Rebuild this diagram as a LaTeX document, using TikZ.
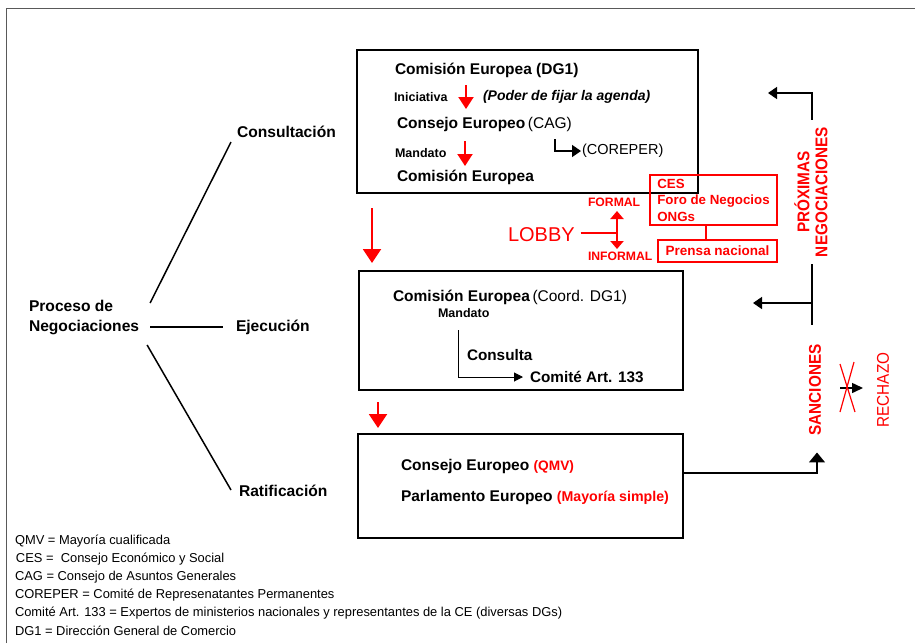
\documentclass[tikz,border=0pt]{standalone}
\usepackage{fontspec}
\setmainfont{Liberation Sans}
\usetikzlibrary{arrows.meta}
\definecolor{rd}{RGB}{255,0,0}
\begin{document}
\begin{tikzpicture}[x=1pt,y=-1pt,
  every node/.style={inner sep=0pt, outer sep=0pt},
  big/.style={anchor=west, font=\fontsize{15.5}{18}\selectfont\bfseries},
  tree/.style={anchor=west, font=\fontsize{15.6}{20}\selectfont\bfseries},
  small/.style={anchor=west, font=\fontsize{12.5}{14}\selectfont\bfseries},
  redsm/.style={font=\fontsize{12.2}{14}\selectfont\bfseries, text=rd},
  legend/.style={anchor=west, font=\fontsize{12.9}{14}\selectfont},
  boxx/.style={draw, line width=1.6pt, anchor=north west},
  redbox/.style={draw=rd, line width=1.5pt, anchor=north west, text=rd, font=\fontsize{13.3}{16.5}\selectfont\bfseries},
  vert/.style={rotate=90, text=rd, align=center, font=\fontsize{17}{18}\selectfont\bfseries},
  blk/.style={line width=1.5pt, -{Triangle[width=12pt,length=9pt]}},
  redbig/.style={draw=rd, line width=2pt, -{Triangle[width=18pt,length=14pt]}},
  redmid/.style={draw=rd, line width=2pt, -{Triangle[width=15pt,length=12pt]}},
  line/.style={line width=1.5pt}
]
\useasboundingbox (0,0) rectangle (915,643);
\fill[white] (0,0) rectangle (915,643);
% outer frame
\draw[gray!70!black, line width=1pt] (6,643) -- (6,8) -- (915,8);

% boxes
\node[boxx, minimum width=341, minimum height=143] (b1) at (357,50) {};
\node[boxx, minimum width=324, minimum height=119] (b2) at (359,271) {};
\node[boxx, minimum width=325, minimum height=104] (b3) at (358,434) {};

% box 1 content
\node[big] (t1a) at (395,70) {Comisión Europea (DG1)};
\node[small] (ini) at (394,97) {Iniciativa};
\node[anchor=west, font=\fontsize{14}{16}\selectfont\bfseries\itshape] (poder) at (483,97) {(Poder de fijar la agenda)};
\node[big] (t1b) at (397,124) {Consejo Europeo\,\mdseries(CAG)};
\node[small] (mand1) at (395,153) {Mandato};
\node[anchor=west, font=\fontsize{14.5}{17}\selectfont] (corep) at (582,151) {(COREPER)};
\node[big] (t1c) at (397,177) {Comisión Europea};
\coordinate (r1s) at (466,85);
\coordinate (r1e) at (466,109);
\draw[redmid] (r1s) -- (r1e);
\coordinate (r2s) at (465,141);
\coordinate (r2e) at (465,166);
\draw[redmid] (r2s) -- (r2e);
\coordinate (cs) at (555,139);
\draw[blk] (cs) |- ([xshift=-1pt]corep.west);

% arrows between boxes
\draw[redbig] ([xshift=15pt,yshift=-15pt]b1.south west) -- ([xshift=13pt,yshift=8pt]b2.north west);
\draw[redbig] ([xshift=19pt,yshift=-12pt]b2.south west) -- ([xshift=20pt,yshift=6pt]b3.north west);

% box 2 content
\node[big] (t2a) at (393,297) {Comisión Europea\,\mdseries(Coord. DG1)};
\node[small] (mand2) at (438,313) {Mandato};
\node[big, font=\fontsize{15.3}{17}\selectfont\bfseries] (cons2) at (467,355) {Consulta};
\node[big, font=\fontsize{15.3}{17}\selectfont\bfseries] (comite) at (530,377) {Comité Art. 133};
\coordinate (cm) at (458,330);
\draw[line width=1pt, -{Triangle[width=9pt,length=9pt]}] (cm) |- ([xshift=-7pt]comite.west);

% box 3 content
\node[big] (t3a) at (401,466) {Consejo Europeo \textcolor{rd}{\fontsize{13.7}{15}\selectfont(QMV)}};
\node[big] (t3b) at (401,497) {Parlamento Europeo \textcolor{rd}{\fontsize{14.2}{15}\selectfont(Mayoría simple)}};

% tree
\node[tree, align=left] (proc) at (29,317) {Proceso de\\Negociaciones};
\node[tree] (cons) at (237,132) {Consultación};
\node[tree] (ejec) at (236,327) {Ejecución};
\node[tree] (ratif) at (239,491) {Ratificación};
\draw[line] ([shift={(11,-14)}]proc.east) -- ([shift={(-6,10)}]cons.west);
\draw[line] ([shift={(11,10)}]proc.east) -- ([shift={(-13,0)}]ejec.west);
\draw[line] ([shift={(8,28)}]proc.east) -- ([shift={(-8,-1)}]ratif.west);

% lobby
\node[anchor=west, text=rd, font=\fontsize{20}{22}\selectfont] (lobby) at (508,235) {LOBBY};
\node[redsm, anchor=west] (formal) at (588,202) {FORMAL};
\node[redsm, anchor=west] (informal) at (588,256) {INFORMAL};
\coordinate (lb) at (617,233);
\coordinate (lbt) at (617,211);
\coordinate (lbb) at (617,249);
\draw[rd, line width=1.5pt] ([xshift=6pt,yshift=2pt]lobby.east) -- (lb);
\draw[rd, line width=2.5pt, {Triangle[width=13pt,length=8pt]}-{Triangle[width=13pt,length=8pt]}] (lbt) -- (lbb);
\node[redbox, align=left, inner xsep=6pt, minimum width=127, minimum height=50, inner ysep=2pt] (ces) at (650,175) {CES\\Foro de Negocios\\ONGs};
\node[redbox, minimum width=119, minimum height=22, font=\fontsize{13.5}{15}\selectfont\bfseries] (prensa) at (658,240) {Prensa nacional};
\draw[rd, line width=1.5pt] ([xshift=-7.5pt]ces.south) -- ([xshift=-7.5pt]ces.south |- prensa.north);

% right side
\node[vert] (prox) at (811,192) {\scalebox{0.9}[1]{PRÓXIMAS}\\\scalebox{0.9}[1]{NEGOCIACIONES}};
\coordinate (pn1) at (768,93);
\draw[blk] ([xshift=1pt,yshift=7pt]prox.east) |- (pn1);
\coordinate (pn2) at (753,303);
\coordinate (pnb) at (812,325);
\draw[line] ([xshift=1pt,yshift=-7pt]prox.west) -- (pnb);
\draw[blk] (812,303) -- (pn2);

\node[vert] (sanc) at (815,390) {\scalebox{0.9}[1]{SANCIONES}};
\draw[line width=1.5pt, -{Triangle[width=16pt,length=10pt]}] ([yshift=13pt]b3.east) -| ([xshift=2pt,yshift=-17pt]sanc.west);

\coordinate (xa) at (840,388);
\coordinate (xb) at (863,388);
\draw[line width=1.5pt, -{Triangle[width=10pt,length=11pt]}] (xa) -- (xb);
\draw[rd, line width=1.2pt] (840,364) -- (855,412);
\draw[rd, line width=1.2pt] (854,362) -- (840,412);
\node[vert, font=\fontsize{17}{18}\selectfont] (rech) at (883,390) {\scalebox{0.9}[1]{RECHAZO}};

% legend
\node[legend] (l1) at (15,541) {QMV = Mayoría cualificada};
\node[legend] (l2) at (16,559) {CES =\ \ Consejo Económico y Social};
\node[legend] (l3) at (15,577) {CAG = Consejo de Asuntos Generales};
\node[legend] (l4) at (15,595) {COREPER = Comité de Represenatantes Permanentes};
\node[legend] (l5) at (15,613) {Comité Art. 133 = Expertos de ministerios nacionales y representantes de la CE (diversas DGs)};
\node[legend] (l6) at (15,631) {DG1 = Dirección General de Comercio};
\end{tikzpicture}
\end{document}
